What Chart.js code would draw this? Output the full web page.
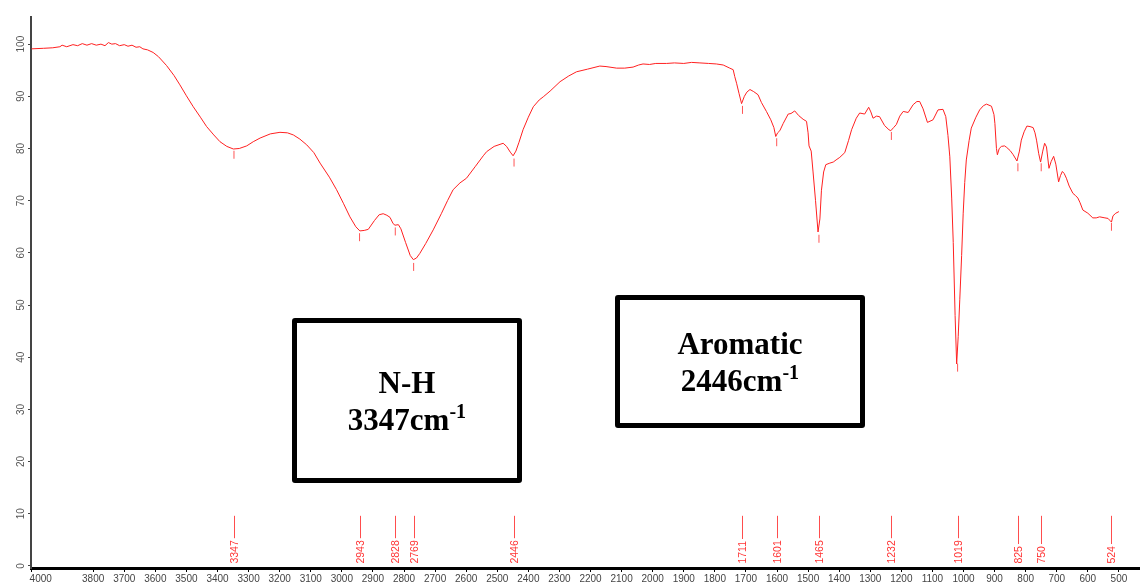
<!DOCTYPE html>
<html><head><meta charset="utf-8">
<script src="https://cdn.jsdelivr.net/npm/chart.js@4.4.1/dist/chart.umd.min.js"></script>
<style>
html,body{margin:0;padding:0;background:#fff;overflow:hidden;width:1140px;height:584px;}
#wrap{position:relative;width:1170px;height:584px;}
canvas{position:absolute;left:0;top:0;}
.box{position:absolute;box-sizing:border-box;border:5px solid #000;border-radius:3px;display:flex;flex-direction:column;align-items:center;justify-content:center;font-family:"Liberation Serif","Times New Roman",serif;font-weight:bold;font-size:31px;line-height:37px;color:#000;text-align:center;}
.sup{position:relative;top:-12px;font-size:20px;line-height:0;}
</style></head>
<body><div id="wrap"><canvas id="c" width="1170" height="584"></canvas>
<div class="box" style="left:292px;top:318px;width:230px;height:165px;"><div>N-H</div><div>3347cm<span class="sup">-1</span></div></div>
<div class="box" style="left:615px;top:295px;width:250px;height:133px;"><div>Aromatic</div><div>2446cm<span class="sup">-1</span></div></div>
</div>
<script>
const wavenumbers = [3998,3960,3930,3907,3900,3885,3865,3850,3835,3820,3805,3790,3775,3762,3751,3740,3728,3715,3700,3688,3675,3662,3650,3640,3625,3607,3590,3564,3540,3521,3500,3478,3455,3435,3412,3392,3370,3349,3330,3306,3285,3263,3230,3199,3175,3156,3135,3113,3090,3070,3040,3017,2995,2974,2955,2942,2928,2915,2895,2880,2867,2855,2845,2835,2829,2818,2810,2795,2780,2770,2760,2749,2730,2706,2680,2660,2642,2620,2599,2570,2545,2534,2510,2481,2470,2458,2449,2440,2430,2417,2400,2384,2365,2352,2330,2298,2270,2245,2210,2170,2150,2116,2090,2063,2045,2031,2010,1990,1955,1930,1900,1875,1848,1820,1795,1773,1752,1741,1736,1730,1722,1714,1705,1697,1687,1675,1661,1650,1634,1620,1610,1604,1598,1591,1580,1564,1555,1543,1530,1516,1505,1500,1497,1490,1484,1476,1468,1462,1457,1450,1443,1430,1419,1410,1398,1382,1370,1360,1345,1334,1318,1305,1298,1291,1280,1270,1254,1240,1234,1225,1216,1205,1194,1178,1162,1150,1141,1130,1116,1098,1082,1066,1057,1050,1044,1038,1033,1027,1022,1017,1012,1006,1001,996,991,982,975,960,948,936,926,910,902,899,894,891,885,878,868,861,850,840,828,820,814,805,796,786,776,770,765,758,752,745,739,733,725,718,710,703,694,688,682,676,669,660,648,640,632,625,616,600,584,573,562,545,535,529,524,519,510,500];
const transmittance = [99.1,99.2,99.3,99.5,99.8,99.5,99.9,99.7,100.1,99.8,100.1,99.8,100.0,99.7,100.3,100.0,100.1,99.7,99.9,99.6,99.8,99.4,99.5,99.1,98.9,98.4,97.6,95.9,94.0,92.2,90.1,88.0,86.0,84.2,82.6,81.3,80.4,79.9,80.0,80.5,81.3,82.0,82.8,83.1,83.0,82.6,81.8,80.7,79.2,77.2,74.5,72.1,69.5,66.9,65.0,64.2,64.3,64.5,66.2,67.3,67.5,67.2,66.8,65.6,65.3,65.4,64.6,62.0,59.5,58.7,59.0,59.9,61.8,64.4,67.5,70.0,72.1,73.4,74.3,76.6,78.6,79.4,80.4,81.0,80.4,79.3,78.6,79.5,81.2,83.6,86.0,88.0,89.3,89.9,91.0,92.8,93.9,94.7,95.2,95.8,95.7,95.4,95.4,95.6,96.0,96.2,96.1,96.3,96.3,96.4,96.3,96.5,96.4,96.3,96.2,96.0,95.4,95.1,93.8,92.5,90.5,88.6,90.0,90.8,91.3,90.9,90.3,88.8,87.1,85.5,84.0,82.3,83.0,83.4,84.8,86.6,86.7,87.2,86.3,85.6,85.2,83.0,80.5,79.5,75.5,70.0,64.0,66.5,72.0,75.5,76.9,77.2,77.4,77.8,78.3,79.2,81.5,83.6,85.8,86.8,86.6,87.9,87.0,85.8,86.2,86.1,84.4,83.6,83.4,84.0,84.6,86.2,87.1,86.9,88.4,89.0,89.0,87.6,85.0,85.5,87.4,87.5,86.1,82.5,78.4,70.5,62.0,48.0,38.7,44.0,51.0,59.5,67.6,73.5,77.8,81.5,83.9,86.0,87.4,88.2,88.5,88.1,86.5,84.8,80.0,78.8,80.0,80.4,80.5,80.2,79.6,78.8,77.6,79.5,81.6,83.2,84.3,84.2,84.0,83.0,81.6,79.0,77.4,79.5,81.0,80.3,76.2,77.5,78.5,77.0,73.6,74.8,75.6,75.2,74.3,72.8,71.4,71.0,70.5,69.6,68.2,67.6,66.7,66.7,66.9,66.7,66.6,66.2,65.9,67.1,67.6,67.9];
const peakPositions = [3347,2943,2828,2769,2446,1711,1601,1465,1232,1019,825,750,524];
const peakMarkValues = [78.8,63.0,64.1,57.3,77.3,87.4,81.2,62.7,82.4,38.0,76.4,76.4,65.0];
const xTickValues = [4000,3800,3700,3600,3500,3400,3300,3200,3100,3000,2900,2800,2700,2600,2500,2400,2300,2200,2100,2000,1900,1800,1700,1600,1500,1400,1300,1200,1100,1000,900,800,700,600,500,400];
const yTickValues = [0,10,20,30,40,50,60,70,80,90,100];

const LABEL_LINE_TOP = 9.6;   // value where the peak label stems start
const LABEL_TEXT_BASE = 0.45; // value where the rotated peak labels start

const peakLabelPlugin = {
  id: 'peakLabels',
  afterDatasetsDraw(chart) {
    const {ctx, scales: {x, y}} = chart;
    ctx.save();
    ctx.font = '10.5px "Liberation Sans", Arial, sans-serif';
    peakPositions.forEach(p => {
      const px = Math.round(x.getPixelForValue(p)) + 0.5;
      const top = y.getPixelForValue(LABEL_LINE_TOP);
      const bottom = y.getPixelForValue(LABEL_TEXT_BASE);
      const txt = String(p);
      const w = ctx.measureText(txt).width;
      ctx.strokeStyle = '#ff4d4d';
      ctx.lineWidth = 1;
      ctx.beginPath();
      ctx.moveTo(px, top);
      ctx.lineTo(px, bottom - w - 2);
      ctx.stroke();
      ctx.save();
      ctx.translate(px, bottom);
      ctx.rotate(-Math.PI / 2);
      ctx.fillStyle = '#ff3333';
      ctx.textAlign = 'left';
      ctx.textBaseline = 'middle';
      ctx.fillText(txt, 0, 0.5);
      ctx.restore();
    });
    ctx.restore();
  }
};

const narrow = '"Liberation Sans Narrow", "Liberation Sans", Arial, sans-serif';

new Chart(document.getElementById('c'), {
  type: 'line',
  data: {
    datasets: [
      {
        data: wavenumbers.map((w, i) => ({x: w, y: transmittance[i]})),
        borderColor: '#ff2020',
        borderWidth: 1,
        pointRadius: 0,
        tension: 0,
        fill: false
      },
      {
        data: peakPositions.map((p, i) => ({x: p, y: peakMarkValues[i]})),
        showLine: false,
        pointStyle: 'line',
        rotation: 90,
        pointRadius: 4,
        borderColor: '#ff5555',
        borderWidth: 1
      }
    ]
  },
  options: {
    responsive: false,
    animation: false,
    devicePixelRatio: 1,
    layout: {padding: {top: 17, right: 20, left: 0, bottom: 0}},
    plugins: {legend: {display: false}, tooltip: {enabled: false}},
    scales: {
      x: {
        type: 'linear', reverse: true, min: 400, max: 4000,
        afterBuildTicks: s => { s.ticks = xTickValues.map(v => ({value: v})); },
        afterFit: s => { s.height = 16; },
        border: {display: true, color: '#000', width: 3},
        grid: {drawOnChartArea: false, drawTicks: true, tickLength: 4, color: '#000', lineWidth: 1},
        ticks: {
          autoSkip: false, maxRotation: 0, minRotation: 0, padding: 1, color: '#444',
          font: {family: narrow, size: 10},
          callback: v => v === 4000 ? '       4000' : String(v)
        }
      },
      y: {
        type: 'linear', min: -0.4, max: 105.2,
        afterBuildTicks: s => { s.ticks = yTickValues.map(v => ({value: v})); },
        afterFit: s => { s.width = 31; },
        border: {display: true, color: '#444', width: 2},
        grid: {drawOnChartArea: false, drawTicks: true, tickLength: 3, color: '#444', lineWidth: 1},
        ticks: {
          minRotation: 90, maxRotation: 90, crossAlign: 'center', padding: -2, color: '#555',
          font: {family: narrow, size: 10},
          callback: v => String(v)
        }
      }
    }
  },
  plugins: [peakLabelPlugin]
});
</script>
</body></html>
